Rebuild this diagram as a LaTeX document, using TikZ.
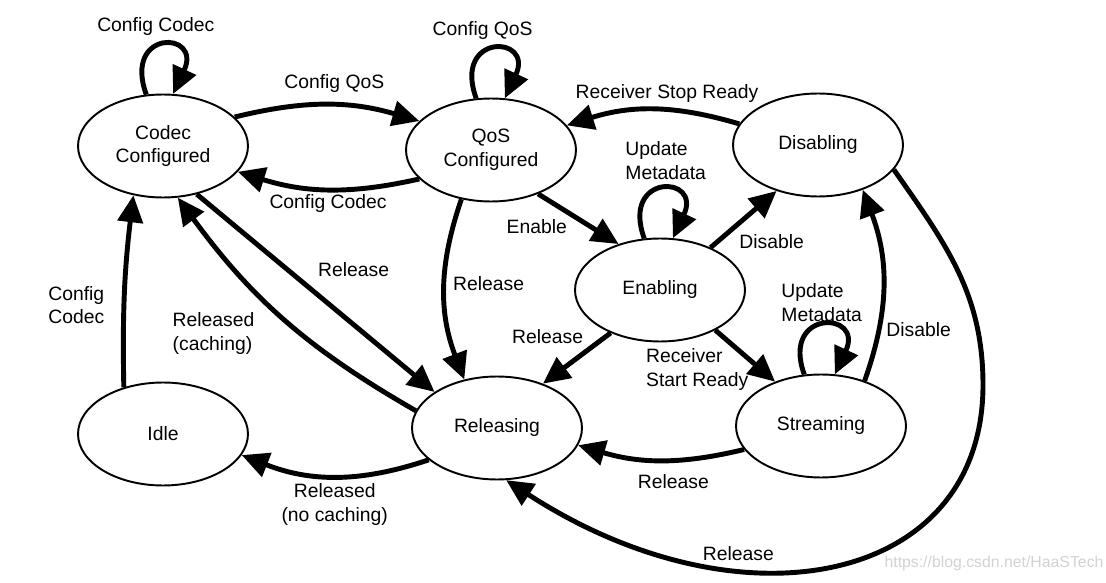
\documentclass[tikz,border=0pt]{standalone}
\usepackage{fontspec}
\setmainfont{Liberation Sans}
\usetikzlibrary{shapes.geometric, arrows.meta, positioning}

\begin{document}
\begin{tikzpicture}[
    x=0.02cm, y=0.02cm,
    state/.style={ellipse, draw=black, line width=1.1pt, minimum width=3.4cm,
        minimum height=2.06cm, inner sep=0pt, align=center, font=\fontsize{11}{13.6}\selectfont},
    lbl/.style={inner sep=0pt, font=\fontsize{11}{13.6}\selectfont},
    trans/.style={-{Triangle[length=0.54cm, width=0.5cm]}, line width=2.8pt}
]
\useasboundingbox (0,0) rectangle (1106,582);

% States
\node[state] (cc) at (163,436) {Codec\\Configured};
\node[state] (qos) at (491,432) {QoS\\Configured};
\node[state] (dis) at (818,437) {Disabling};
\node[state] (ena) at (660,292) {Enabling};
\node[state] (str) at (821,156) {Streaming};
\node[state] (rel) at (497,154) {Releasing};
\node[state] (idle) at (163,148) {Idle};

% Self loops
\draw[trans] (cc.108) to[out=110, in=65, distance=1.4cm] node[lbl, above=0.15cm, xshift=-0.12cm] {Config Codec} (cc.79);
\draw[trans] (qos.106) to[out=110, in=65, distance=1.4cm] node[lbl, above=0.15cm, xshift=-0.2cm] {Config QoS} (qos.75);
\draw[trans] (ena.107) to[out=110, in=65, distance=1.4cm] node[lbl, align=left, above=0.15cm, xshift=0.1cm] {Update\\Metadata} (ena.76);
\draw[trans] (str.108) to[out=110, in=65, distance=1.4cm] node[lbl, align=left, above=0.04cm] {Update\\Metadata} (str.75);

% Transitions
\draw[trans] (cc.22) to[bend left=15] node[lbl, above=0.2cm, xshift=0.14cm] {Config QoS} (qos.158);
\draw[trans] (qos.202) to[bend left=15] node[lbl, below=0.05cm] {Config Codec} (cc.341);
\draw[trans] (cc.305) -- node[lbl, pos=.5, anchor=south west, yshift=0.28cm] {Release} (rel.150);
\draw[trans] (rel.168) to[bend left=12] node[lbl, align=left, anchor=east, xshift=-0.54cm, yshift=-0.3cm] {Released\\(caching)} (cc.286);
\draw[trans] (idle.130) to[bend left=4] node[lbl, align=left, anchor=east, xshift=-0.36cm, yshift=-0.28cm] {Config\\Codec} (cc.239);
\draw[trans] (rel.205) to[bend left=20] node[lbl, align=center, below=0.1cm] {Released\\(no caching)} (idle.345);
\draw[trans] (qos.239) to[bend right=20] node[lbl, anchor=west, xshift=0.12cm, yshift=0.12cm] {Release} (rel.124);
\draw[trans] (qos.317) -- node[lbl, anchor=north east, xshift=-0.18cm, yshift=0.04cm] {Enable} (ena.132);
\draw[trans] (ena.221) -- node[lbl, pos=.37, anchor=south east, yshift=0.12cm] {Release} (rel.44);
\draw[trans] (ena.40) -- node[lbl, pos=.4, anchor=north west, yshift=-0.14cm] {Disable} (dis.228);
\draw[trans] (dis.165) to[bend right=17] node[lbl, above=0.1cm, xshift=0.28cm] {Receiver Stop Ready} (qos.18);
\draw[trans] (ena.324) -- node[lbl, pos=.76, align=left, anchor=east, xshift=-0.2cm] {Receiver\\Start Ready} (str.136);
\draw[trans] (str.46) to[bend right=20] node[lbl, pos=.26, right=0.1cm] {Disable} (dis.315);
\draw[trans] (str.197) to[bend left=15] node[lbl, below=0.25cm, xshift=0.25cm] {Release} (rel.348);
\coordinate (turn) at (983,197);
\draw[trans] (dis.342) to[out=-55, in=90] (turn)
    to[out=-90, in=-33, out distance=4cm, in distance=5.6cm] node[lbl, pos=.66, above=0.1cm] {Release} (rel.280);

% watermark
\node[font=\fontsize{9}{11}\selectfont, text=gray!35] (mark) at (994,19) {https://blog.csdn.net/HaaSTech};
\end{tikzpicture}
\end{document}
